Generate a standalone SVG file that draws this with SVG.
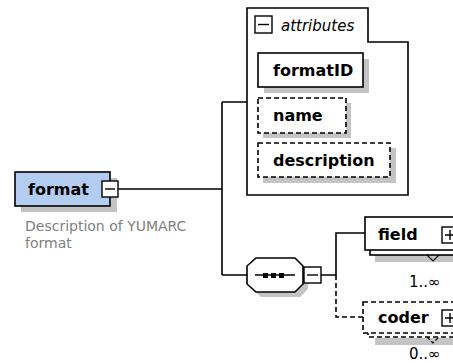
<svg xmlns="http://www.w3.org/2000/svg" width="453" height="363" viewBox="0 0 453 363">
  <style>
    .box { fill: #ffffff; stroke: #000000; stroke-width: 1.6; }
    .dash { fill: #ffffff; stroke: #000000; stroke-width: 1.6; stroke-dasharray: 5 3; }
    .shadow { fill: #c4c4c4; }
    .name { font-family: "DejaVu Sans", Verdana, sans-serif; font-weight: bold; font-size: 16px; fill: #000000; }
    .occ { font-family: "DejaVu Sans", Verdana, sans-serif; font-size: 15px; fill: #000000; }
    .doc { font-family: "DejaVu Sans", Verdana, sans-serif; font-size: 14px; fill: #808080; }
    .ctl { fill: #ffffff; stroke: #000000; stroke-width: 1.4; }
    .wire { fill: none; stroke: #000000; stroke-width: 1.6; }
    .wire-opt { fill: none; stroke: #000000; stroke-width: 1.6; stroke-dasharray: 5 3; }
  </style>

  <rect width="453" height="363" fill="#ffffff"/>

  <!-- connectors -->
  <g id="connectors">
    <path class="wire" d="M118,189 H222 M222,102 V275 M222,102 H247 M222,275 H247"/>
    <path class="wire" d="M321,275 H336 V233 H365"/>
    <path class="wire-opt" d="M336,275 V317 H363"/>
  </g>

  <!-- root element -->
  <g id="format">
    <rect class="shadow" x="21" y="178" width="96" height="34"/>
    <rect x="15" y="172" width="95" height="34" fill="#b3cdf0" stroke="#000000" stroke-width="1.6"/>
    <text class="name" x="28" y="195">format</text>
    <rect class="ctl" x="102" y="181" width="16" height="16"/>
    <path d="M105,189 H115" stroke="#000000" stroke-width="1.4"/>
    <text class="doc" x="25" y="231">Description of YUMARC</text>
    <text class="doc" x="25" y="248">format</text>
  </g>

  <!-- attribute group -->
  <g id="attributes">
    <path d="M247,8 H368 V42 H408 V195 H247 Z" fill="#ffffff" stroke="#000000" stroke-width="1.6"/>
    <rect class="ctl" x="255" y="16" width="17" height="17"/>
    <path d="M258,24.5 H269" stroke="#000000" stroke-width="1.4"/>
    <text x="281" y="31" font-family="'DejaVu Sans', Verdana, sans-serif" font-style="italic" font-size="15" fill="#000000">attributes</text>
  </g>

  <g id="formatID">
    <rect class="shadow" x="264" y="59" width="105" height="34"/>
    <rect class="box" x="258" y="53" width="105" height="34"/>
    <text class="name" x="273" y="76">formatID</text>
  </g>

  <g id="name">
    <rect class="shadow" x="263" y="103" width="88" height="35"/>
    <rect class="dash" x="258" y="98" width="88" height="35"/>
    <text class="name" x="273" y="121">name</text>
  </g>

  <g id="description">
    <rect class="shadow" x="263" y="148" width="133" height="35"/>
    <rect class="dash" x="258" y="143" width="132" height="34"/>
    <text class="name" x="273" y="166">description</text>
  </g>

  <!-- sequence compositor -->
  <g id="sequence">
    <polygon class="shadow" points="252,271 261,263 300,263 308,271 308,289 300,297 261,297 252,289"/>
    <polygon points="247,266 256,258 295,258 303,266 303,284 295,292 256,292 247,284" fill="#ffffff" stroke="#000000" stroke-width="1.6"/>
    <path d="M255,275 H295" stroke="#000000" stroke-width="1.4"/>
    <rect x="263" y="273" width="5" height="5" fill="#000000"/>
    <rect x="271" y="273" width="5" height="5" fill="#000000"/>
    <rect x="279" y="273" width="5" height="5" fill="#000000"/>
    <rect class="ctl" x="304" y="267" width="17" height="16"/>
    <path d="M307,275 H318" stroke="#000000" stroke-width="1.4"/>
  </g>

  <!-- repeated child elements -->
  <g id="field">
    <rect class="shadow" x="375" y="255" width="90" height="7"/>
    <rect class="box" x="370" y="222" width="95" height="33"/>
    <rect class="box" x="365" y="217" width="95" height="33"/>
    <path d="M427,255 L433,261 L439,255" fill="none" stroke="#000000" stroke-width="1.2"/>
    <text class="name" x="378" y="240">field</text>
    <rect class="ctl" x="442" y="227" width="16" height="16"/>
    <path d="M445,235 H455 M450,230 V240" stroke="#000000" stroke-width="1.4"/>
    <text class="occ" x="409" y="287">1..∞</text>
  </g>

  <g id="coder">
    <rect class="shadow" x="375" y="338" width="90" height="7"/>
    <rect class="dash" x="368" y="305" width="95" height="32"/>
    <rect class="dash" x="363" y="302" width="95" height="31"/>
    <path d="M427,337 L433,343 L439,337" fill="none" stroke="#000000" stroke-width="1.2" stroke-dasharray="4 2"/>
    <text class="name" x="378" y="323">coder</text>
    <rect class="ctl" x="442" y="310" width="16" height="16"/>
    <path d="M445,318 H455 M450,313 V323" stroke="#000000" stroke-width="1.4"/>
    <text class="occ" x="409" y="359">0..∞</text>
  </g>
</svg>
